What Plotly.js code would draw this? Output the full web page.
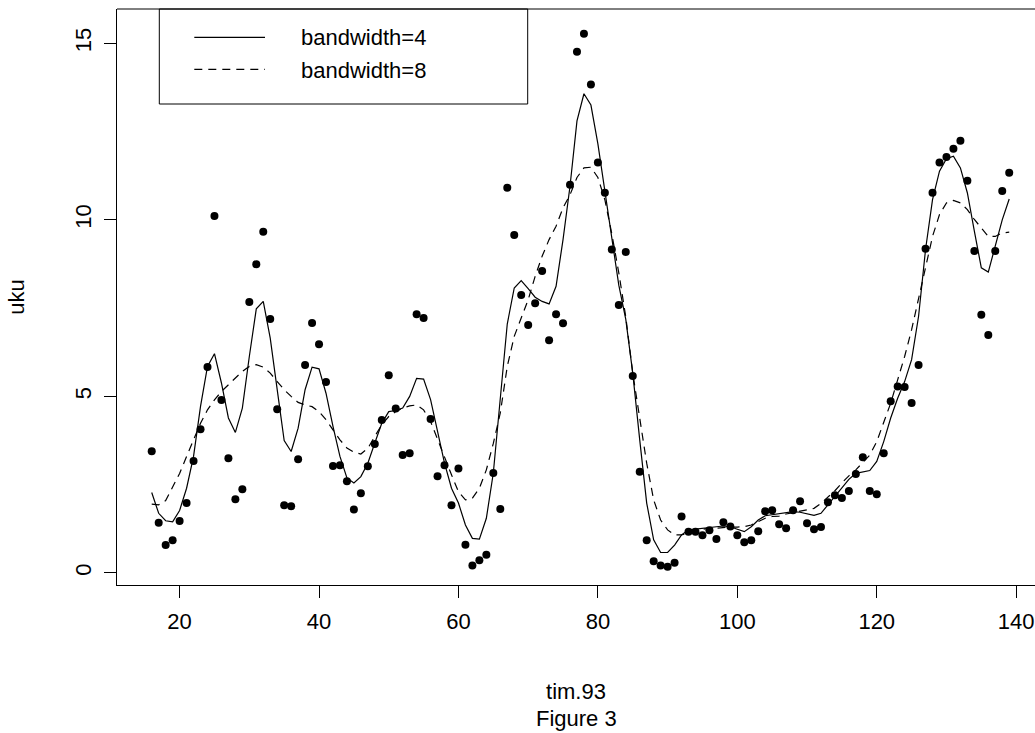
<!DOCTYPE html>
<html>
<head>
<meta charset="utf-8">
<script src="https://cdn.plot.ly/plotly-3.0.1.min.js"></script>
<style>html,body{margin:0;padding:0;background:#fff;}#chart{width:1035px;height:733px;}</style>
</head>
<body>
<div id="chart"></div>
<script>
const tim93 = [16,17,18,19,20,21,22,23,24,25,26,27,28,29,30,31,32,33,34,35,36,37,38,39,40,41,42,43,44,45,46,47,48,49,50,51,52,53,54,55,56,57,58,59,60,61,62,63,64,65,66,67,68,69,70,71,72,73,74,75,76,77,78,79,80,81,82,83,84,85,86,87,88,89,90,91,92,93,94,95,96,97,98,99,100,101,102,103,104,105,106,107,108,109,110,111,112,113,114,115,116,117,118,119,120,121,122,123,124,125,126,127,128,129,130,131,132,133,134,135,136,137,138,139];

const uku = [3.45,1.42,0.79,0.93,1.47,1.98,3.17,4.07,5.83,10.11,4.90,3.25,2.09,2.37,7.67,8.74,9.66,7.19,4.64,1.92,1.89,3.22,5.89,7.08,6.48,5.41,3.03,3.05,2.60,1.80,2.26,3.02,3.65,4.33,5.60,4.66,3.34,3.39,7.33,7.22,4.36,2.74,3.05,1.92,2.96,0.80,0.21,0.36,0.52,2.83,1.81,10.91,9.57,7.87,7.02,7.64,8.55,6.59,7.33,7.07,10.99,14.76,15.27,13.83,11.62,10.77,9.16,7.59,9.09,5.58,2.87,0.93,0.33,0.21,0.18,0.29,1.60,1.17,1.17,1.07,1.21,0.96,1.44,1.32,1.07,0.87,0.93,1.18,1.75,1.78,1.38,1.27,1.78,2.03,1.41,1.24,1.30,2.00,2.20,2.12,2.32,2.80,3.28,2.32,2.23,3.39,4.86,5.28,5.27,4.81,5.89,9.18,10.77,11.62,11.78,12.01,12.24,11.11,9.12,7.31,6.74,9.12,10.82,11.33];

const smoothBw4 = [2.28,1.69,1.48,1.45,1.77,2.40,3.30,4.72,5.85,6.21,5.38,4.39,3.98,4.67,6.13,7.48,7.69,6.65,5.19,3.75,3.44,4.10,5.19,5.83,5.78,5.09,4.15,3.30,2.69,2.55,2.73,3.11,3.68,4.24,4.57,4.60,4.67,5.00,5.51,5.49,4.91,3.96,3.11,2.40,1.98,1.36,0.98,0.96,1.55,2.83,4.91,7.05,8.07,8.28,8.05,7.81,7.69,7.62,8.12,9.44,10.95,12.80,13.57,13.25,12.15,10.80,9.44,8.15,7.18,5.66,3.77,1.98,0.94,0.58,0.58,0.79,1.08,1.22,1.24,1.27,1.29,1.31,1.33,1.31,1.24,1.17,1.31,1.50,1.62,1.65,1.67,1.69,1.74,1.72,1.67,1.63,1.69,1.93,2.18,2.43,2.65,2.82,2.87,2.90,3.16,3.72,4.39,4.95,5.42,6.04,7.27,9.16,10.57,11.38,11.73,11.80,11.47,10.76,9.68,8.64,8.52,9.25,10.00,10.59];

const smoothBw8 = [1.95,1.93,2.05,2.45,2.82,3.30,3.77,4.24,4.62,4.90,5.14,5.33,5.52,5.71,5.85,5.90,5.83,5.66,5.42,5.19,5.00,4.83,4.76,4.71,4.57,4.34,4.05,3.77,3.54,3.42,3.37,3.53,3.87,4.20,4.43,4.57,4.67,4.73,4.76,4.62,4.29,3.77,3.30,2.78,2.30,2.07,2.12,2.40,2.92,3.67,4.53,5.85,6.70,7.22,7.74,8.40,8.97,9.44,9.82,10.34,10.71,11.20,11.47,11.49,11.20,10.57,9.60,8.50,7.25,5.66,4.43,3.11,2.07,1.50,1.22,1.08,1.08,1.12,1.20,1.24,1.27,1.27,1.29,1.30,1.30,1.31,1.36,1.46,1.55,1.60,1.61,1.67,1.71,1.74,1.79,1.83,1.97,2.14,2.33,2.55,2.75,2.92,3.13,3.34,3.72,4.24,4.81,5.47,6.13,6.89,7.74,8.68,9.53,10.15,10.48,10.55,10.48,10.29,10.01,9.77,9.53,9.53,9.63,9.65];

const xTicks = [20,40,60,80,100,120,140];
const yTicks = [0,5,10,15];
const legendLabels = ["bandwidth=4","bandwidth=8"];

const FONT = "Liberation Sans, Arial, Helvetica, sans-serif";

const traces = [
  {x: tim93, y: uku, type: "scatter", mode: "markers",
   marker: {color: "#000", size: 8}, name: "uku", hoverinfo: "x+y"},
  {x: tim93, y: smoothBw4, type: "scatter", mode: "lines",
   line: {color: "#000", width: 1.2}, name: legendLabels[0]},
  {x: tim93, y: smoothBw8, type: "scatter", mode: "lines",
   line: {color: "#000", width: 1.2, dash: "8px,6px"}, name: legendLabels[1]}
];

const L = 117, T = 9, B = 148, R = 0;
const W = 1035, H = 733;
const pw = W - L - R, ph = H - T - B;
const px = v => (v - L) / pw;
const py = v => (H - B - v) / ph;

const layout = {
  width: W, height: H,
  margin: {l: L, r: R, t: T, b: B, pad: 0},
  paper_bgcolor: "#fff", plot_bgcolor: "#fff",
  showlegend: false,
  font: {family: FONT, size: 22, color: "#000"},
  xaxis: {
    range: [11.02, 142.7], autorange: false,
    tickmode: "array", tickvals: xTicks, ticktext: xTicks.map(String),
    ticks: "outside", ticklen: 12, tickwidth: 1, tickcolor: "#000",
    showline: true, linecolor: "#000", linewidth: 1,
    showgrid: false, zeroline: false,
    ticklabeloverflow: "allow",
    tickfont: {family: FONT, size: 22, color: "#000"},
    ticklabelstandoff: 5,
    title: {text: "tim.93", font: {family: FONT, size: 22, color: "#000"}, standoff: 50}
  },
  yaxis: {
    range: [-0.34, 15.97], autorange: false,
    tickmode: "array", tickvals: yTicks, ticktext: yTicks.map(String),
    ticks: "outside", ticklen: 12, tickwidth: 1, tickcolor: "#000",
    tickangle: -90,
    showline: true, linecolor: "#000", linewidth: 1,
    showgrid: false, zeroline: false,
    tickfont: {family: FONT, size: 22, color: "#000"},
    ticklabelstandoff: 4,
    title: {text: "uku", font: {family: FONT, size: 22, color: "#000"}, standoff: 40}
  },
  shapes: [
    {type: "line", xref: "paper", yref: "paper", x0: 0, x1: 1, y0: 1, y1: 1,
     line: {color: "#000", width: 1}},
    {type: "rect", xref: "paper", yref: "paper",
     x0: px(159.3), x1: px(527.7), y0: py(104), y1: 1,
     line: {color: "#000", width: 1}, fillcolor: "rgba(255,255,255,0)"},
    {type: "line", xref: "paper", yref: "paper", x0: px(194.3), x1: px(265), y0: py(37.3), y1: py(37.3),
     line: {color: "#000", width: 1.2}},
    {type: "line", xref: "paper", yref: "paper", x0: px(194.3), x1: px(265), y0: py(69.3), y1: py(69.3),
     line: {color: "#000", width: 1.2, dash: "8px,6px"}}
  ],
  annotations: [
    {xref: "paper", yref: "paper", x: px(299.3), y: py(38), xanchor: "left", yanchor: "middle",
     text: legendLabels[0], showarrow: false, font: {family: FONT, size: 22, color: "#000"}},
    {xref: "paper", yref: "paper", x: px(299.3), y: py(70), xanchor: "left", yanchor: "middle",
     text: legendLabels[1], showarrow: false, font: {family: FONT, size: 22, color: "#000"}},
    {xref: "paper", yref: "paper", x: 0.5, y: py(733), xanchor: "center", yanchor: "bottom",
     text: "Figure 3", showarrow: false, font: {family: FONT, size: 22, color: "#000"}}
  ]
};

Plotly.newPlot("chart", traces, layout, {displayModeBar: false, staticPlot: true});
</script>
</body>
</html>
